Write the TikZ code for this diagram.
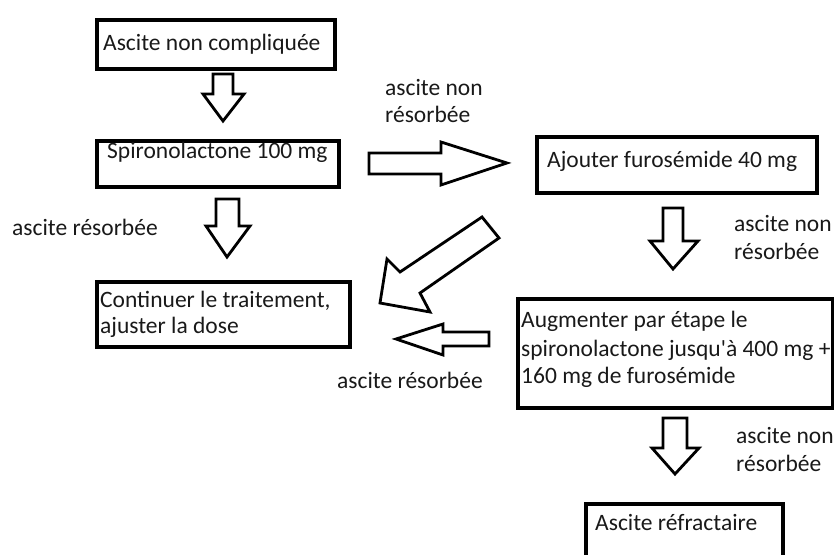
\documentclass[tikz,border=0pt]{standalone}
\usepackage{fontspec}
\newfontfamily\calfont{Carlito}
\begin{document}
\begin{tikzpicture}[x=1pt,y=-1pt,
  box/.style={draw, line width=3.5pt, inner sep=0pt, anchor=north west},
  txt/.style={anchor=base west, inner sep=0pt, font=\calfont\fontsize{23.5}{28}\selectfont, text=black!90},
  blk/.style={draw, line width=2.8pt, line join=miter, fill=white}]
\useasboundingbox (0,0) rectangle (834,554);
% boxes
\node[box, minimum width=238pt, minimum height=49pt] (b1) at (95,18) {};
\node[box, minimum width=242pt, minimum height=46pt] (b2) at (95,139) {};
\node[box, minimum width=280pt, minimum height=56pt] (b3) at (535,135) {};
\node[box, minimum width=253pt, minimum height=65pt] (b4) at (95,280) {};
\node[box, minimum width=315pt, minimum height=109pt] (b5) at (516,297) {};
\node[box, minimum width=197pt, minimum height=60pt] (b6) at (584,502) {};
% box texts
\node[txt] (t1) at (103,50) {Ascite non compliquée};
\node[txt] (t2) at (107,158) {Spironolactone 100 mg};
\node[txt] (t3) at (547,167) {Ajouter furosémide 40 mg};
\node[txt] (t4a) at (100,307) {Continuer le traitement,};
\node[txt] (t4b) at (100,333) {ajuster la dose};
\node[txt] (t5a) at (521,327) {Augmenter par étape le};
\node[txt] (t5b) at (521,356) {spironolactone jusqu'à 400 mg +};
\node[txt] (t5c) at (521,383) {160 mg de furosémide};
\node[txt] (t6) at (595,530) {Ascite réfractaire};
% labels
\node[txt] (l1a) at (385,95) {ascite non};
\node[txt] (l1b) at (385,122) {résorbée};
\node[txt] (l2) at (12,235) {ascite résorbée};
\node[txt] (l3) at (337,388) {ascite résorbée};
\node[txt] (l4a) at (734,231) {ascite non};
\node[txt] (l4b) at (734,259) {résorbée};
\node[txt] (l5a) at (736,443) {ascite non};
\node[txt] (l5b) at (736,471) {résorbée};
% block arrows
\draw[blk] (213,74) -- (233,74) -- (233,94) -- (244,94) -- (223,121) -- (203,94) -- (213,94) -- cycle;
\draw[blk] (216,199) -- (239,199) -- (239,226) -- (250,226) -- (227,257) -- (206,226) -- (216,226) -- cycle;
\draw[blk] (663,208) -- (683,208) -- (683,241) -- (698,241) -- (673,269) -- (650,241) -- (663,241) -- cycle;
\draw[blk] (663,418) -- (687,418) -- (687,448) -- (699,448) -- (675,474) -- (652,448) -- (663,448) -- cycle;
\draw[blk] (369,153) -- (441,153) -- (441,142) -- (507,163) -- (441,185) -- (441,174) -- (369,174) -- cycle;
\draw[blk] (489,332) -- (443,332) -- (443,324) -- (396,339) -- (443,355) -- (443,346) -- (489,346) -- cycle;
\draw[blk] (482,217) -- (499,238) -- (420,293) -- (430,312) -- (380,303) -- (387,259) -- (400,272) -- cycle;
\end{tikzpicture}
\end{document}
